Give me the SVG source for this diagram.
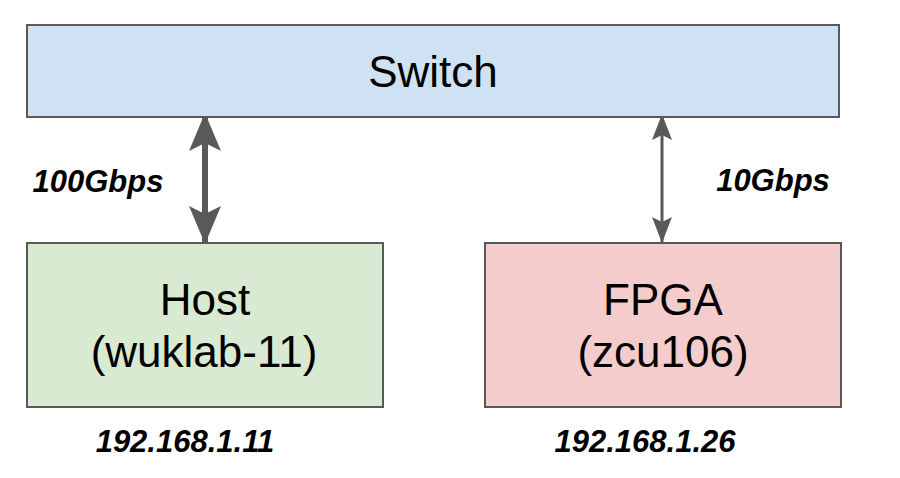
<svg xmlns="http://www.w3.org/2000/svg" width="900" height="478" viewBox="0 0 900 478">
<defs>
<style>
.box{stroke:#595959;stroke-width:2}
.big{font-family:"Liberation Sans",Arial,sans-serif;font-size:44px;fill:#000;text-anchor:middle}
.lbl{font-family:"Liberation Sans",Arial,sans-serif;font-size:31px;font-weight:bold;font-style:italic;fill:#000;text-anchor:middle}
.conn{stroke:#595959;fill:none}
</style>
<marker id="ahBig" viewBox="0 0 38 32" refX="36" refY="16" markerWidth="38" markerHeight="32" markerUnits="userSpaceOnUse" orient="auto-start-reverse">
<path d="M0,0 L38,16 L0,32 L8,16 Z" fill="#595959"/>
</marker>
<marker id="ahSmall" viewBox="0 0 26 20" refX="25" refY="10" markerWidth="26" markerHeight="20" markerUnits="userSpaceOnUse" orient="auto-start-reverse">
<path d="M0,0 L26,10 L0,20 L5,10 Z" fill="#595959"/>
</marker>
</defs>
<rect width="900" height="478" fill="#fff"/>
<g id="connectors">
<line class="conn" x1="205" y1="115" x2="205" y2="242" stroke-width="6" marker-start="url(#ahBig)" marker-end="url(#ahBig)"/>
<line class="conn" x1="662" y1="115" x2="662" y2="242" stroke-width="3" marker-start="url(#ahSmall)" marker-end="url(#ahSmall)"/>
</g>
<g id="switch">
<rect class="box" x="27" y="25" width="812" height="92" fill="#cfe2f3"/>
<text class="big" x="433" y="87">Switch</text>
</g>
<g id="host">
<rect class="box" x="27" y="243" width="356" height="164" fill="#d9ead3"/>
<text class="big" x="205" y="315">Host</text>
<text class="big" x="204" y="367">(wuklab-11)</text>
</g>
<g id="fpga">
<rect class="box" x="485" y="243" width="356" height="164" fill="#f4cccc"/>
<text class="big" x="663" y="315">FPGA</text>
<text class="big" x="663" y="367">(zcu106)</text>
</g>
<g id="labels">
<text class="lbl" x="98" y="192">100Gbps</text>
<text class="lbl" x="773" y="191">10Gbps</text>
<text class="lbl" x="185" y="452">192.168.1.11</text>
<text class="lbl" x="645" y="452">192.168.1.26</text>
</g>
</svg>
